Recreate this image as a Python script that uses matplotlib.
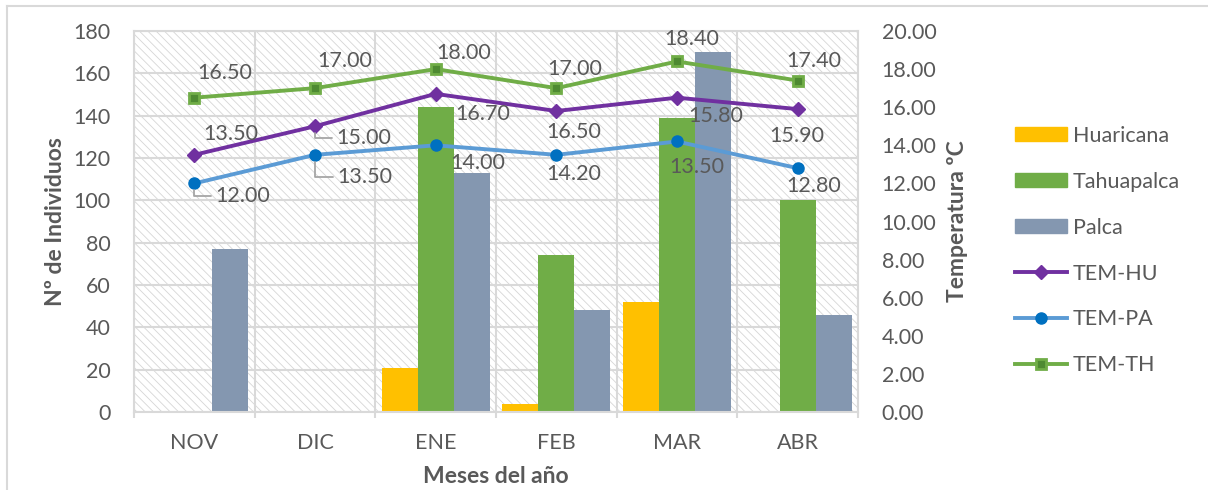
import matplotlib
matplotlib.use("Agg")
import matplotlib.pyplot as plt
from matplotlib.patches import Rectangle
from matplotlib.lines import Line2D
import numpy as np

plt.rcParams['font.family'] = ['Lato', 'DejaVu Sans']
plt.rcParams['hatch.linewidth'] = 0.6

# ---- data ----
months = ['NOV', 'DIC', 'ENE', 'FEB', 'MAR', 'ABR']
huaricana = [0, 0, 21, 4, 52, 0]
tahuapalca = [0, 0, 144, 74, 139, 100]
palca = [77, 0, 113, 48, 170, 46]
tem_hu = [13.5, 15.0, 16.7, 15.8, 16.5, 15.9]
tem_pa = [12.0, 13.5, 14.0, 13.5, 14.2, 12.8]
tem_th = [16.5, 17.0, 18.0, 17.0, 18.4, 17.4]

# label placement (pixel offsets from each point) and leader-line flags
off_hu = [(36, 21), (49, -12), (47, -20), (159, -5), (-103, -34), (-1, -27)]
off_pa = [(48, -13), (50, -22), (42, -18), (140, -12), (-103, -33), (16, -18)]
off_th = [(30, 25), (30, 27), (28, 16), (18, 19), (15, 22), (16, 20)]
lead_hu = [False, True, False, False, False, False]
lead_pa = [True, True, False, False, False, False]
lead_th = [False] * 6

TXT = '#595959'
GRID = '#D9D9D9'
C_HUA, C_TAH, C_PAL = '#FFC000', '#70AD47', '#8497B0'
FS = 15.5

fig = plt.figure(figsize=(12.08, 4.90), dpi=100)
ax = fig.add_axes([134 / 1208, 1 - 412 / 490, 724 / 1208, 381 / 490])

x = np.arange(len(months))
w = 0.298

# hatched plot background
bg = Rectangle((0, 0), 1, 1, transform=ax.transAxes, facecolor='white',
               edgecolor='#D6D6D6', hatch='\\\\\\\\', lw=0, zorder=0)
ax.add_patch(bg)
ax.patch.set_visible(False)

ax.bar(x - w, huaricana, w, color=C_HUA, label='Huaricana', zorder=2)
ax.bar(x, tahuapalca, w, color=C_TAH, label='Tahuapalca', zorder=2)
ax.bar(x + w, palca, w, color=C_PAL, label='Palca', zorder=2)

ax.set_xlim(-0.5, len(months) - 0.5)
ax.set_ylim(0, 180)
ax.set_yticks(np.arange(0, 181, 20))
ax.set_xticks(x)
ax.set_xticklabels(months)
ax.set_xticks(np.arange(-0.5, len(months)), minor=True)
ax.set_axisbelow(True)
ax.grid(which='major', axis='y', color=GRID, lw=1.5, zorder=1)
ax.grid(which='minor', axis='x', color=GRID, lw=1.5, zorder=1)
ax.grid(which='major', axis='x', visible=False)
ax.tick_params(axis='x', which='major', length=0, pad=15, labelsize=FS, labelcolor=TXT)
ax.tick_params(axis='x', which='minor', length=4.5, width=1.5, color=GRID, direction='out')
ax.tick_params(axis='y', length=0, pad=17, labelsize=FS, labelcolor=TXT)
for s in ax.spines.values():
    s.set_color(GRID)
    s.set_linewidth(1.5)

ax.set_xlabel('Meses del año', fontsize=16.5, fontweight='bold', color=TXT)
ax.xaxis.set_label_coords(0.5, -0.168)
ax.xaxis.label.set_va('center')
ax.set_ylabel('Nº de Individuos', fontsize=16.5, fontweight='bold', color=TXT)
ax.yaxis.set_label_coords(-0.108, 0.5)
ax.yaxis.label.set_va('center')

ax2 = ax.twinx()
ax2.set_ylim(0, 20)
ax2.set_yticks(np.arange(0, 21, 2))
ax2.set_yticklabels([f'{v:.2f}' for v in np.arange(0, 21, 2)])
ax2.tick_params(axis='y', length=0, pad=17, labelsize=FS, labelcolor=TXT)
for s in ax2.spines.values():
    s.set_visible(False)
ax2.set_ylabel('Temperatura ºC', fontsize=16.5, fontweight='bold', color=TXT)
ax2.yaxis.set_label_coords(1.138, 0.5)
ax2.yaxis.label.set_va('center')

l_hu, = ax2.plot(x, tem_hu, color='#7030A0', lw=2.8, marker='D', ms=7,
                 mfc='#7030A0', mec='#7030A0', label='TEM-HU', zorder=3)
l_pa, = ax2.plot(x, tem_pa, color='#5B9BD5', lw=2.8, marker='o', ms=8,
                 mfc='#0070C0', mec='#0070C0', label='TEM-PA', zorder=3)
l_th, = ax2.plot(x, tem_th, color='#70AD47', lw=2.8, marker='s', ms=6.5,
                 mfc='#4E8A32', mec='#70AD47', mew=2, label='TEM-TH', zorder=3)


def label_series(vals, offs, leads):
    for xi, v, (dx, dy), lead in zip(x, vals, offs, leads):
        kw = {}
        if lead:
            kw['arrowprops'] = dict(arrowstyle='-', color='#A6A6A6', lw=1.3,
                                    connectionstyle='angle,angleA=0,angleB=90,rad=0',
                                    relpos=(0, 0.5), shrinkA=1, shrinkB=5)
        ax2.annotate(f'{v:.2f}', xy=(xi, v), xytext=(dx, dy),
                     textcoords='offset pixels', ha='center', va='center',
                     fontsize=FS, color=TXT, zorder=4, **kw)


label_series(tem_th, off_th, lead_th)
label_series(tem_hu, off_hu, lead_hu)
label_series(tem_pa, off_pa, lead_pa)

handles = [Rectangle((0, 0), 1, 1, color=C_HUA), Rectangle((0, 0), 1, 1, color=C_TAH),
           Rectangle((0, 0), 1, 1, color=C_PAL), l_hu, l_pa, l_th]
labels = ['Huaricana', 'Tahuapalca', 'Palca', 'TEM-HU', 'TEM-PA', 'TEM-TH']
leg = fig.legend(handles, labels, loc='upper left', bbox_to_anchor=(1015 / 1208, 1 - 126 / 490),
                 frameon=False, fontsize=FS, borderpad=0, borderaxespad=0,
                 handlelength=2.4, handleheight=0.62, handletextpad=0.28, labelspacing=1.2)
for t in leg.get_texts():
    t.set_color(TXT)

# outer chart border
fig.add_artist(Line2D([6.5 / 1208, 6.5 / 1208], [0, 1 - 6.5 / 490], color=GRID, lw=1.5))
fig.add_artist(Line2D([6.5 / 1208, 1], [1 - 6.5 / 490, 1 - 6.5 / 490], color=GRID, lw=1.5))

fig.savefig('out.png', dpi=100)
